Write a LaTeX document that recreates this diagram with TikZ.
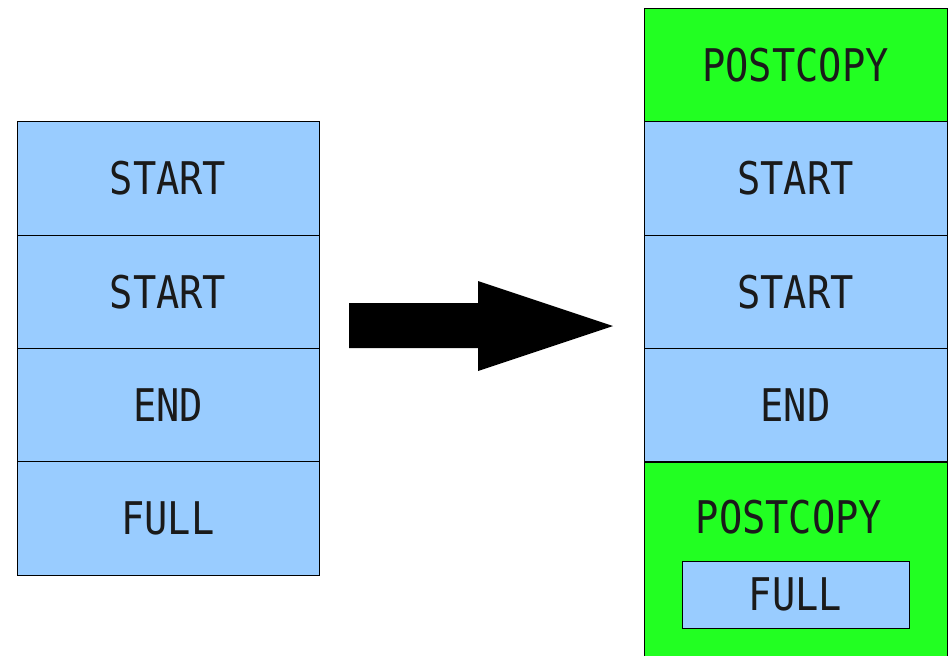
\documentclass[tikz,border=0pt]{standalone}
\usepackage{fontspec}
\newfontfamily\labelfont[FakeStretch=0.86]{DejaVu Sans Mono}
\definecolor{cellblue}{HTML}{99CCFF}
\definecolor{cellgreen}{HTML}{22FF22}
\definecolor{ink}{HTML}{1A1A1A}
\tikzset{
  cell/.style={draw=black, line width=0.8pt, fill=cellblue, rectangle, inner sep=0pt,
    minimum width=302pt, minimum height=113.3pt, font=\labelfont\fontsize{45}{45}\selectfont, text=ink},
  greencell/.style={cell, fill=cellgreen},
  tag/.style={inner sep=0pt, font=\labelfont\fontsize{45}{45}\selectfont, text=ink},
}
\begin{document}
\begin{tikzpicture}[x=1pt, y=-1pt]
\useasboundingbox (0,0) rectangle (951,656);
% source list
\node[cell] (l1) at (168,178.5) {START};
\node[cell] (l2) at (168,291.8) {START};
\node[cell] (l3) at (168,405.2) {END};
\node[cell] (l4) at (168,518.5) {FULL};
% transformation arrow
\fill[black] (349,303) -- (478,303) -- (478,281) -- (613,326) -- (478,371) -- (478,348) -- (349,348) -- cycle;
% resulting list
\node[greencell, minimum width=303pt, minimum height=114pt] (r0) at (795.5,65) {POSTCOPY};
\node[cell, minimum width=303pt] (r1) at (795.5,178.5) {START};
\node[cell, minimum width=303pt] (r2) at (795.5,291.8) {START};
\node[cell, minimum width=303pt] (r3) at (795.5,405.2) {END};
\node[greencell, minimum width=303pt, minimum height=198pt] (r4) at (795.5,561) {};
\node[tag] (r4t) at (789,517.5) {POSTCOPY};
\node[cell, minimum width=227pt, minimum height=67pt] (r4f) at (795.5,594.5) {FULL};
\end{tikzpicture}
\end{document}
